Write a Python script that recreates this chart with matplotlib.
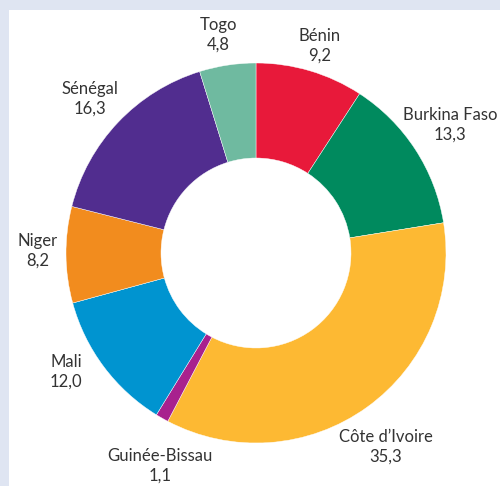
import matplotlib
matplotlib.use("Agg")
import matplotlib.pyplot as plt
from matplotlib.patches import Rectangle

countries = ["Bénin", "Burkina Faso", "Côte d'Ivoire", "Guinée-Bissau",
             "Mali", "Niger", "Sénégal", "Togo"]
shares = [9.2, 13.3, 35.3, 1.1, 12.0, 8.2, 16.3, 4.8]
colors = ["#e8193a", "#008a5e", "#fdb933", "#a8218e",
          "#0094d0", "#f28c1e", "#512d8f", "#6fbaa0"]

# label anchor points in pixels (x, y from top)
label_xy = [(320, 46), (450, 125), (386, 447), (160, 466),
            (66, 372), (38, 251), (90, 99), (218, 35)]

W, H = 500, 486
fig = plt.figure(figsize=(W / 100, H / 100), dpi=100, facecolor="#dfe5f2")
ax = fig.add_axes([0, 0, 1, 1])

ax.add_patch(Rectangle((9, 0), W - 9, H - 10, facecolor="white", edgecolor="none", zorder=0))

ax.pie(shares, colors=colors, startangle=90, counterclock=False,
       center=(256, H - 253), radius=190, frame=True,
       wedgeprops=dict(width=95, edgecolor="white", linewidth=0.3))
ax.set_xlim(0, W)
ax.set_ylim(0, H)
ax.set_aspect("equal")
ax.axis("off")

for name, val, (x, y) in zip(countries, shares, label_xy):
    txt = name.replace("'", "\u2019") + "\n" + f"{val:.1f}".replace(".", ",")
    ax.text(x, H - y, txt, ha="center", va="center", fontsize=12,
            family="Lato", color="#333333", linespacing=1.25)

fig.savefig("out.png", dpi=100, facecolor=fig.get_facecolor())
